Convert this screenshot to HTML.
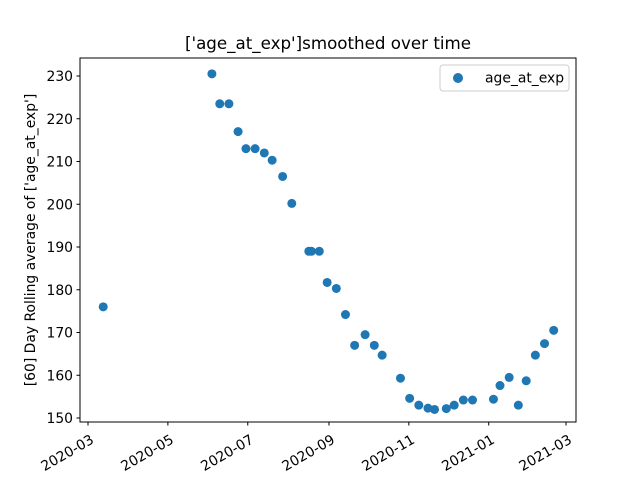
<!DOCTYPE html>
<html><head><meta charset="utf-8"><style>
body{margin:0;background:#fff;}
svg{display:block;font-family:"DejaVu Sans","Liberation Sans",sans-serif;}
</style></head><body>
<svg id="chart" width="640" height="480">
<rect width="640" height="480" fill="#fff"/>
<text x="328" y="49" font-size="16.7" text-anchor="middle">['age_at_exp']smoothed over time</text>
<text transform="translate(35,240) rotate(-90)" font-size="13.9" text-anchor="middle">[60] Day Rolling average of ['age_at_exp']</text>
<g id="marks"></g>
<g id="axes"></g>
<rect x="80" y="58" width="496" height="364" fill="none" stroke="#000" stroke-width="1"/>
<g>
<rect x="440" y="65" width="129" height="26" rx="3" fill="#fff" stroke="#ccc"/>
<circle cx="458" cy="78" r="5" fill="#1f77b4"/>
<text x="485" y="82.5" font-size="13.9">age_at_exp</text>
</g>
</svg>
<script>
const dates=["2020-03-12","2020-06-03","2020-06-09","2020-06-16","2020-06-23","2020-06-29","2020-07-06","2020-07-13","2020-07-19","2020-07-27","2020-08-03","2020-08-16","2020-08-18","2020-08-24","2020-08-30","2020-09-06","2020-09-13","2020-09-20","2020-09-28","2020-10-05","2020-10-11","2020-10-25","2020-11-01","2020-11-08","2020-11-15","2020-11-20","2020-11-29","2020-12-05","2020-12-12","2020-12-19","2021-01-04","2021-01-09","2021-01-16","2021-01-23","2021-01-29","2021-02-05","2021-02-12","2021-02-19"];
const values=[176,230.5,223.5,223.5,217,213,213,212,210.3,206.5,200.2,189,189,189,181.7,180.3,174.2,167,169.5,167,164.7,159.3,154.6,153,152.3,152,152.2,153,154.2,154.2,154.4,157.6,159.5,153,158.7,164.7,167.4,170.5];
const yTicks=[150,160,170,180,190,200,210,220,230];
const xTicks=["2020-03","2020-05","2020-07","2020-09","2020-11","2021-01","2021-03"];
const NS="http://www.w3.org/2000/svg";
const d0=Date.UTC(2020,2,1), d1=Date.UTC(2021,2,1);
function parse(s){const p=s.split("-").map(Number);return Date.UTC(p[0],p[1]-1,p[2]||1);}
function xs(t){return 88+(t-d0)/(d1-d0)*478;}
function ys(v){return 418-(v-150)*4.275;}
const marks=document.getElementById("marks"), axes=document.getElementById("axes");
dates.forEach((d,i)=>{
 const c=document.createElementNS(NS,"circle");
 c.setAttribute("cx",xs(parse(d))+0.8);c.setAttribute("cy",ys(values[i]));c.setAttribute("r",4.5);c.setAttribute("fill","#1f77b4");
 
 
 marks.appendChild(c);
});
yTicks.forEach(v=>{
 const y=ys(v);
 const l=document.createElementNS(NS,"line");
 l.setAttribute("x1",76.5);l.setAttribute("x2",80);l.setAttribute("y1",y);l.setAttribute("y2",y);l.setAttribute("stroke","#000");
 
 
 axes.appendChild(l);
 const t=document.createElementNS(NS,"text");
 t.setAttribute("x",73);t.setAttribute("y",y+5);t.setAttribute("font-size","13.9");t.setAttribute("text-anchor","end");t.textContent=v;
 
 
 axes.appendChild(t);
});
xTicks.forEach(s=>{
 const x=xs(parse(s));
 const l=document.createElementNS(NS,"line");
 l.setAttribute("x1",x);l.setAttribute("x2",x);l.setAttribute("y1",422);l.setAttribute("y2",425.5);l.setAttribute("stroke","#000");
 
 
 axes.appendChild(l);
 const t=document.createElementNS(NS,"text");
 t.setAttribute("transform","translate("+(x+2)+",434) rotate(-30)");t.setAttribute("font-size","13.9");t.setAttribute("text-anchor","end");t.setAttribute("dominant-baseline","hanging");t.textContent=s;
 
 
 axes.appendChild(t);
});
</script>
</body></html>
